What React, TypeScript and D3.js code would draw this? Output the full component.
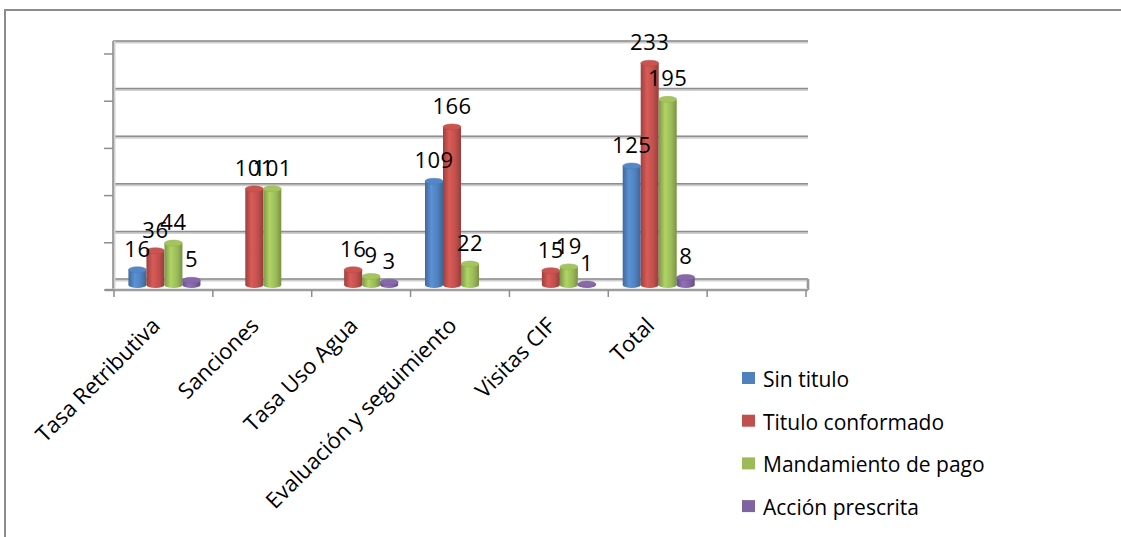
import React from "react";
import * as d3 from "d3";

const categories = ["Tasa Retributiva", "Sanciones", "Tasa Uso Agua", "Evaluación y seguimiento", "Visitas CIF", "Total", ""];
const seriesNames = ["Sin titulo", "Titulo conformado", "Mandamiento de pago", "Acción prescrita"];
const sinTitulo: (number | null)[] = [16, null, null, 109, null, 125, null];
const tituloConformado: (number | null)[] = [36, 101, 16, 166, 15, 233, null];
const mandamientoPago: (number | null)[] = [44, 101, 9, 22, 19, 195, null];
const accionPrescrita: (number | null)[] = [5, null, 3, null, 1, 8, null];
const yTicks = [0, 50, 100, 150, 200, 250];

const seriesValues = [sinTitulo, tituloConformado, mandamientoPago, accionPrescrita];
const colors = ["#4F81BD", "#C0504D", "#9BBB59", "#8064A2"];

const W = 1121, H = 537;
const FONT = "'Open Sans', 'DejaVu Sans', sans-serif";

export default function App() {
  const x = d3.scaleBand<string>().domain(categories.map((c, i) => i + "")).range([114, 806]).paddingInner(0).paddingOuter(0);
  const inner = d3.scaleBand<string>().domain(seriesNames).range([0, 72]);
  const yBar = d3.scaleLinear().domain([0, 250]).range([285, 47]);
  const yBack = d3.scaleLinear().domain([0, 250]).range([279, 41]);
  const yFront = d3.scaleLinear().domain([0, 250]).range([290, 54]);
  const wallL = 113, wallR = 808;

  const slotCenter = (i: number) => (x(i + "") as number) + x.bandwidth() / 2;
  const bw = inner.bandwidth();
  const ry = 3;

  const darker = (c: string, k: number) => d3.color(c)!.darker(k).formatHex();
  const brighter = (c: string, k: number) => d3.color(c)!.brighter(k).formatHex();

  return (
    <svg width={W} height={H} style={{ position: "absolute", left: 0, top: 0, display: "block", background: "#fff" }}>
      <defs>
        {colors.map((c, i) => (
          <linearGradient key={i} id={"cyl" + i} x1="0" x2="1" y1="0" y2="0">
            <stop offset="0" stopColor={darker(c, 0.6)} />
            <stop offset="0.35" stopColor={brighter(c, 0.35)} />
            <stop offset="0.7" stopColor={c} />
            <stop offset="1" stopColor={darker(c, 0.7)} />
          </linearGradient>
        ))}
      </defs>
      {/* outer frame */}
      <rect x={5} y={10} width={1300} height={700} fill="none" stroke="#8c8c8c" strokeWidth={2} />

      {/* back wall gridlines */}
      {yTicks.map((t) => (
        <g key={"g" + t}>
          <line x1={wallL} x2={wallR} y1={yBack(t) + 1} y2={yBack(t) + 1} stroke="#d0d0d0" strokeWidth={3} />
          <line x1={wallL} x2={wallR} y1={yBack(t)} y2={yBack(t)} stroke="#8e8e8e" strokeWidth={1.5} />
        </g>
      ))}
      {/* left wall */}
      <line x1={wallL + 1} x2={wallL + 1} y1={yBack(250)} y2={yFront(0)} stroke="#d0d0d0" strokeWidth={3} />
      <line x1={wallL} x2={wallL} y1={yBack(250)} y2={yFront(0)} stroke="#8e8e8e" strokeWidth={1.5} />
      {/* floor */}
      <line x1={wallR} x2={wallR} y1={yBack(0)} y2={yFront(0)} stroke="#bbb" strokeWidth={3} />
      <line x1={wallR} x2={wallR} y1={yBack(0)} y2={yFront(0)} stroke="#8e8e8e" strokeWidth={1.5} />
      <line x1={105} x2={wallR} y1={yFront(0)} y2={yFront(0)} stroke="#d0d0d0" strokeWidth={3} />
      <line x1={105} x2={wallR} y1={yFront(0)} y2={yFront(0)} stroke="#8e8e8e" strokeWidth={1.5} />
      {/* left ticks */}
      {yTicks.map((t) => (
        <line key={"lt" + t} x1={104} x2={wallL} y1={yFront(t)} y2={yFront(t)} stroke="#8e8e8e" strokeWidth={1.5} />
      ))}
      {/* bottom ticks */}
      {d3.range(categories.length + 1).map((i) => {
        const xx = i < categories.length ? (x(i + "") as number) : 806;
        return <line key={"bt" + i} x1={xx} x2={xx} y1={yFront(0)} y2={yFront(0) + 7} stroke="#8e8e8e" strokeWidth={1.5} />;
      })}

      {/* cylinders */}
      {categories.map((c, ci) =>
        seriesNames.map((s, si) => {
          const v = seriesValues[si][ci];
          if (v == null) return null;
          const x0 = slotCenter(ci) - 36 + 1 + (inner(s) as number);
          const cx = x0 + bw / 2;
          const yt = yBar(v);
          const yb = yBar(0);
          return (
            <g key={c + s}>
              <ellipse cx={cx} cy={yb} rx={bw / 2} ry={ry} fill={`url(#cyl${si})`} />
              <rect x={x0} y={yt} width={bw} height={yb - yt} fill={`url(#cyl${si})`} />
              <ellipse cx={cx} cy={yt} rx={bw / 2} ry={ry} fill={brighter(colors[si], 0.15)} stroke={darker(colors[si], 0.2)} strokeWidth={0.5} />
            </g>
          );
        })
      )}
      {/* data labels */}
      {categories.map((c, ci) =>
        seriesNames.map((s, si) => {
          const v = seriesValues[si][ci];
          if (v == null) return null;
          const cx = slotCenter(ci) - 36 + 1 + (inner(s) as number) + bw / 2;
          return (
            <text key={"l" + c + s} x={cx} y={yBar(v) - 13} textAnchor="middle" fontFamily={FONT} fontSize={22} letterSpacing={0.5} fill="#000">
              {v}
            </text>
          );
        })
      )}

      {/* category labels */}
      {categories.map((c, ci) => {
        if (!c) return null;
        const px = slotCenter(ci) - 2;
        const py = 327;
        return (
          <text key={"c" + ci} x={px} y={py} transform={`rotate(-45 ${px} ${py})`} textAnchor="end" fontFamily={FONT} fontSize={22} fill="#000">
            {c}
          </text>
        );
      })}

      {/* legend */}
      {seriesNames.map((s, si) => {
        const cy = 380 + si * 42.7;
        return (
          <g key={"lg" + s}>
            <rect x={742} y={cy - 8} width={13} height={12} fill={colors[si]} />
            <text x={763} y={cy + 7} fontFamily={FONT} fontSize={21} fill="#000">
              {s}
            </text>
          </g>
        );
      })}
    </svg>
  );
}
